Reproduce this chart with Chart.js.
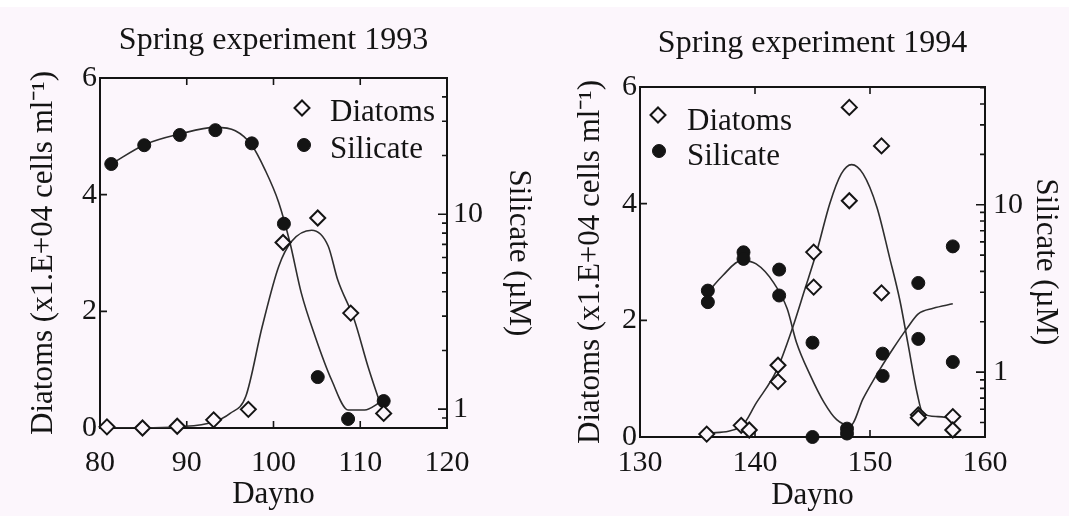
<!DOCTYPE html>
<html>
<head>
<meta charset="utf-8">
<title>Spring experiments 1993 and 1994</title>
<script src="https://cdn.jsdelivr.net/npm/chart.js@4.4.1/dist/chart.umd.min.js"></script>
<style>
  html, body { margin: 0; padding: 0; background: #fcf6fc; }
  #wrap { position: relative; width: 1069px; height: 516px;
          background: linear-gradient(#ffffff 0, #ffffff 7px, #fcf6fc 7px); }
  canvas { position: absolute; top: 0; }
  #c1993 { left: 0; }
  #c1994 { left: 535px; }
</style>
</head>
<body>
<div id="wrap">
  <canvas id="c1993" width="535" height="516"></canvas>
  <canvas id="c1994" width="534" height="516"></canvas>
</div>
<script>
// ---- Spring 1993: sampled diatoms (x1.E+04 cells/ml) and silicate (uM)
const diatomDays1993 = [80.8, 84.9, 88.9, 93.1, 97.1, 101.1, 105.1, 108.9, 112.7];
const diatoms1993    = [0.02, 0.0, 0.03, 0.14, 0.32, 3.18, 3.60, 1.97, 0.25];
const silicateDays1993 = [81.3, 85.1, 89.2, 93.3, 97.5, 101.2, 105.1, 108.6, 112.7];
const silicate1993     = [18.1, 22.6, 25.5, 27.0, 23.1, 8.94, 1.46, 0.89, 1.1];

// ---- Spring 1993: fitted curves
const diatomFitDays1993 = [81, 85, 89, 93, 95, 96.8, 98.7, 100.6, 102.1, 104.4, 106.3, 107.4, 109.3, 110.9, 112.4];
const diatomFit1993     = [0, 0, 0.02, 0.1, 0.25, 0.54, 1.74, 2.77, 3.2, 3.39, 3.12, 2.54, 1.86, 1.05, 0.37];
const silicateFitDays1993 = [81.3, 85.2, 89.2, 93.3, 95.6, 97.5, 99.0, 100.6, 101.9, 103.2, 104.8, 106.7, 108.6, 110.5, 112.4];
const silicateFit1993     = [18.1, 22.8, 25.8, 27.9, 26.8, 22.6, 17.0, 11.5, 7.14, 3.95, 2.36, 1.41, 0.99, 0.99, 1.09];

// ---- Spring 1994: sampled diatoms and silicate (duplicate samples per day)
const diatomDays1994 = [135.8, 138.8, 139.5, 142.0, 142.0, 145.1, 145.1, 148.2, 148.2, 151.0, 151.0, 154.2, 154.2, 157.2, 157.2];
const diatoms1994    = [0.05, 0.2, 0.12, 1.23, 0.95, 3.17, 2.57, 5.65, 4.05, 4.99, 2.47, 0.38, 0.33, 0.35, 0.12];
const silicateDays1994 = [135.9, 135.9, 139.0, 139.0, 142.1, 142.1, 145.0, 145.0, 148.0, 148.0, 151.1, 151.1, 154.2, 154.2, 157.2, 157.2];
const silicate1994     = [3.07, 2.62, 5.2, 4.75, 4.10, 2.87, 1.50, 0.41, 0.46, 0.43, 1.29, 0.95, 3.41, 1.58, 5.64, 1.15];

// ---- Spring 1994: fitted curves
const diatomFitDays1994 = [135.8, 138.8, 140.1, 141.9, 143.3, 144.3, 145.4, 146.5, 147.5, 148.4, 149.4, 150.6, 151.7, 152.6, 153.3, 154.1, 154.6, 155.9, 157.2];
const diatomFit1994     = [0.06, 0.18, 0.58, 1.15, 1.89, 2.51, 3.2, 4.0, 4.51, 4.67, 4.51, 3.94, 3.08, 2.34, 1.6, 0.75, 0.4, 0.35, 0.32];
const silicateFitDays1994 = [135.9, 137.2, 138.8, 140.1, 141.6, 142.8, 143.6, 144.8, 146.0, 147.1, 148.3, 149.4, 150.9, 152.0, 153.2, 154.2, 155.5, 157.2];
const silicateFit1994     = [3.0, 3.78, 4.64, 4.43, 3.44, 2.39, 1.51, 0.96, 0.66, 0.52, 0.48, 0.695, 1.05, 1.38, 1.82, 2.23, 2.41, 2.56];

// ---- axis labelling
const diatomTicks = [0, 2, 4, 6];
const silicateTickLabels = [1, 10];
const seriesNames = ['Diatoms', 'Silicate'];

const INK = '#141414';
const PAPER = '#fcf6fc';
const SERIF = '"Liberation Serif", "Times New Roman", serif';

const pairs = (xs, ys) => xs.map((x, i) => ({ x: x, y: ys[i] }));

// log-axis tick positions 1..9 per decade inside [min, max]
function decadeTicks(min, max) {
  const out = [];
  for (const d of [0.1, 1, 10]) {
    for (let k = 1; k <= 9; k++) {
      const v = Number((k * d).toPrecision(3));
      if (v >= min - 1e-9 && v <= max + 1e-9) out.push(v);
    }
  }
  return out;
}

// box around the plot area with inward ticks taken from the scales
const frameTicks = {
  id: 'frameTicks',
  beforeDatasetsDraw(chart, args, o) {
    const { ctx, chartArea: a, scales } = chart;
    ctx.save();
    ctx.strokeStyle = o.color;
    ctx.lineWidth = o.width;
    ctx.strokeRect(a.left, a.top, a.right - a.left, a.bottom - a.top);
    ctx.lineWidth = o.tickWidth;
    ctx.beginPath();
    scales.x.ticks.forEach(t => {
      if (t.value <= scales.x.min || t.value >= scales.x.max) return;
      const px = scales.x.getPixelForValue(t.value);
      ctx.moveTo(px, a.bottom); ctx.lineTo(px, a.bottom - o.len);
      ctx.moveTo(px, a.top);    ctx.lineTo(px, a.top + o.len);
    });
    scales.y.ticks.forEach(t => {
      if (t.value <= scales.y.min || t.value >= scales.y.max) return;
      const py = scales.y.getPixelForValue(t.value);
      ctx.moveTo(a.left, py); ctx.lineTo(a.left + o.len, py);
    });
    scales.ySil.ticks.forEach(t => {
      const py = scales.ySil.getPixelForValue(t.value);
      const len = silicateTickLabels.includes(t.value) ? o.majorLen : o.minorLen;
      ctx.moveTo(a.right, py); ctx.lineTo(a.right - len, py);
    });
    ctx.stroke();
    ctx.restore();
  }
};

// symbol key drawn inside the plot area
const seriesKey = {
  id: 'seriesKey',
  afterDraw(chart, args, o) {
    const ctx = chart.ctx;
    ctx.save();
    ctx.font = o.font;
    ctx.textAlign = 'left';
    ctx.textBaseline = 'middle';
    o.rows.forEach(r => {
      const ds = chart.data.datasets[r.dataset];
      const rad = ds.pointRadius;
      ctx.beginPath();
      if (ds.pointStyle === 'rectRot') {
        ctx.moveTo(r.mx - rad, r.my);
        ctx.lineTo(r.mx, r.my - rad);
        ctx.lineTo(r.mx + rad, r.my);
        ctx.lineTo(r.mx, r.my + rad);
        ctx.closePath();
      } else {
        ctx.arc(r.mx, r.my, rad, 0, Math.PI * 2);
      }
      ctx.fillStyle = ds.pointBackgroundColor;
      ctx.fill();
      ctx.lineWidth = ds.pointBorderWidth;
      ctx.strokeStyle = ds.pointBorderColor;
      ctx.stroke();
      ctx.fillStyle = o.color;
      ctx.fillText(ds.label, r.tx, r.ty);
    });
    ctx.restore();
  }
};

function makePanel(id, p) {
  const silTicks = decadeTicks(p.silMin, p.silMax);
  return new Chart(document.getElementById(id), {
    type: 'line',
    data: {
      datasets: [
        { label: seriesNames[0], data: pairs(p.dDays, p.dVals), yAxisID: 'y', showLine: false,
          pointStyle: 'rectRot', pointRadius: 7.5, pointBorderWidth: 2,
          pointBackgroundColor: PAPER, pointBorderColor: INK, order: 1, clip: false },
        { label: seriesNames[1], data: pairs(p.sDays, p.sVals), yAxisID: 'ySil', showLine: false,
          pointStyle: 'circle', pointRadius: 6.5, pointBorderWidth: 1,
          pointBackgroundColor: INK, pointBorderColor: INK, order: 1, clip: false },
        { label: seriesNames[0] + ' fit', data: pairs(p.dfDays, p.dfVals), yAxisID: 'y',
          borderColor: '#2e2e2e', borderWidth: 1.6, pointRadius: 0,
          cubicInterpolationMode: 'monotone', order: 2 },
        { label: seriesNames[1] + ' fit', data: pairs(p.sfDays, p.sfVals), yAxisID: 'ySil',
          borderColor: '#2e2e2e', borderWidth: 1.6, pointRadius: 0,
          cubicInterpolationMode: 'monotone', order: 2 }
      ]
    },
    options: {
      responsive: false,
      animation: false,
      events: [],
      layout: { padding: 0 },
      scales: {
        x: {
          type: 'linear', position: 'bottom', min: p.xMin, max: p.xMax,
          grid: { display: false, drawTicks: false }, border: { display: false },
          ticks: { stepSize: 10, padding: p.xTickPad, color: INK,
                   font: { family: SERIF, size: 30, lineHeight: 1 } },
          title: { display: true, text: 'Dayno', color: INK,
                   font: { family: SERIF, size: 31, lineHeight: 1 },
                   padding: { top: p.xTitlePad, bottom: p.xTitlePad } },
          afterFit: s => { s.height = p.xAxisH; }
        },
        y: {
          type: 'linear', position: 'left', min: 0, max: 6,
          grid: { display: false, drawTicks: false }, border: { display: false },
          afterBuildTicks: s => { s.ticks = diatomTicks.map(v => ({ value: v })); },
          ticks: { padding: 3, color: INK, font: { family: SERIF, size: 30, lineHeight: 1 } },
          title: { display: true, text: 'Diatoms (x1.E+04 cells ml\u207B\u00B9)', color: INK,
                   font: { family: SERIF, size: 31, lineHeight: 1 },
                   padding: { top: p.yTitlePad, bottom: p.yTitlePad } },
          afterFit: s => { s.width = p.leftW; }
        },
        ySil: {
          type: 'logarithmic', position: 'right', min: p.silMin, max: p.silMax,
          grid: { display: false, drawTicks: false }, border: { display: false },
          afterBuildTicks: s => { s.ticks = silTicks.map(v => ({ value: v })); },
          ticks: { padding: p.silTickPad, autoSkip: false, color: INK,
                   font: { family: SERIF, size: 30, lineHeight: 1 },
                   callback: v => (silicateTickLabels.includes(v) ? String(v) : '') },
          title: { display: true, text: 'Silicate (\u00B5M)', color: INK,
                   font: { family: SERIF, size: 31, lineHeight: 1 },
                   padding: { top: p.silTitlePad, bottom: p.silTitlePad } },
          afterFit: s => { s.width = p.rightW; }
        }
      },
      plugins: {
        legend: { display: false },
        tooltip: { enabled: false },
        title: { display: true, text: p.title, color: INK, fullSize: false,
                 font: { family: SERIF, size: 32, lineHeight: 1, weight: 'normal' },
                 padding: { top: p.titleTop, bottom: p.titleBottom } },
        frameTicks: { color: INK, width: 2, tickWidth: 1.6, len: 7, majorLen: 9, minorLen: 5 },
        seriesKey: { font: '31px ' + SERIF, color: INK, rows: p.keyRows }
      }
    },
    plugins: [frameTicks, seriesKey]
  });
}

makePanel('c1993', {
  title: 'Spring experiment 1993',
  dDays: diatomDays1993, dVals: diatoms1993,
  sDays: silicateDays1993, sVals: silicate1993,
  dfDays: diatomFitDays1993, dfVals: diatomFit1993,
  sfDays: silicateFitDays1993, sfVals: silicateFit1993,
  xMin: 80, xMax: 120, silMin: 0.8, silMax: 50,
  leftW: 100, rightW: 88, xAxisH: 88,
  titleTop: 25, titleBottom: 21,
  xTickPad: 20.5, xTitlePad: 6, yTitlePad: 28, silTitlePad: 1, silTickPad: 6,
  keyRows: [
    { dataset: 0, mx: 302, my: 108, tx: 330, ty: 113 },
    { dataset: 1, mx: 304, my: 145, tx: 330, ty: 150 }
  ]
});

makePanel('c1994', {
  title: 'Spring experiment 1994',
  dDays: diatomDays1994, dVals: diatoms1994,
  sDays: silicateDays1994, sVals: silicate1994,
  dfDays: diatomFitDays1994, dfVals: diatomFit1994,
  sfDays: silicateFitDays1994, sfVals: silicateFit1994,
  xMin: 130, xMax: 160, silMin: 0.41, silMax: 50.5,
  leftW: 105, rightW: 84, xAxisH: 79,
  titleTop: 28, titleBottom: 27,
  xTickPad: 11.5, xTitlePad: 4.5, yTitlePad: 40, silTitlePad: 8, silTickPad: 8,
  keyRows: [
    { dataset: 0, mx: 123, my: 115, tx: 152, ty: 122 },
    { dataset: 1, mx: 124, my: 151, tx: 152, ty: 157 }
  ]
});
</script>
</body>
</html>
